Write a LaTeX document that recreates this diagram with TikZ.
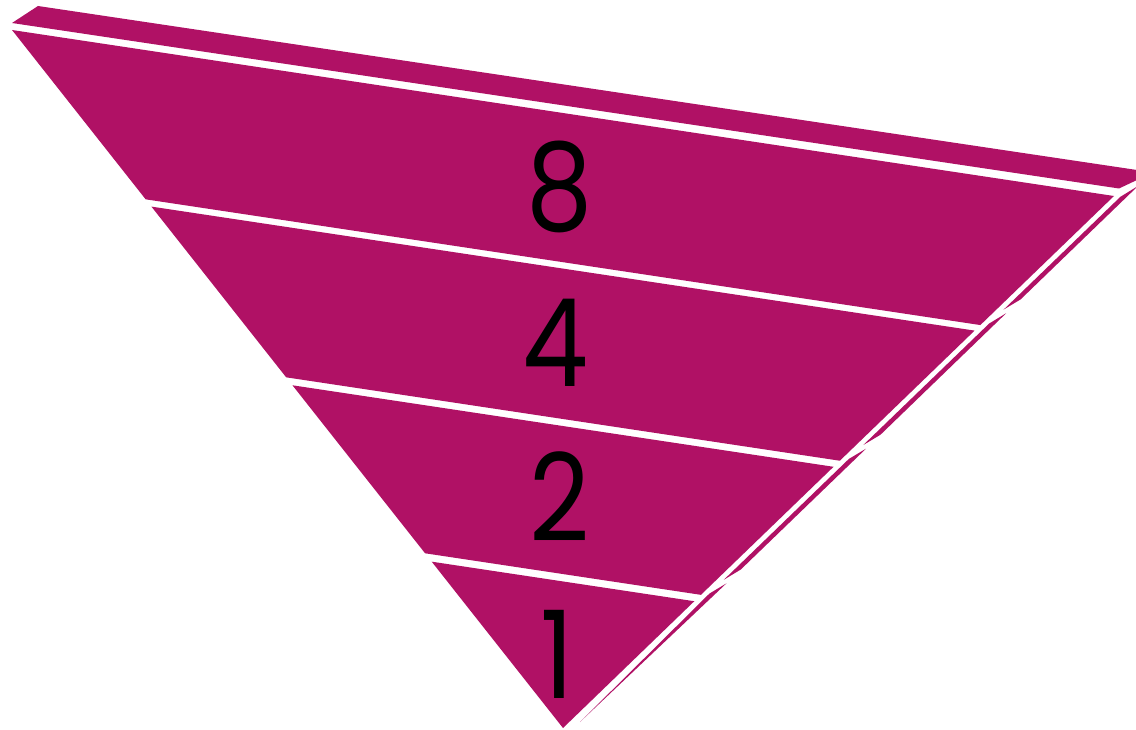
\documentclass[tikz,border=0pt]{standalone}
\usepackage{fontspec}
\setmainfont{Poppins}
\usetikzlibrary{calc}
\definecolor{mag}{HTML}{B01165}
\newcommand{\dig}[1]{\scalebox{0.86}[1]{#1}}
\begin{document}
\begin{tikzpicture}[x=1pt,y=-1pt,
  face/.style={fill=mag,draw=none},
  num/.style={font=\fontsize{122}{122}\selectfont,text=black,inner sep=0pt,anchor=center}]
\useasboundingbox (0,0) rectangle (1136,730);
\coordinate (A) at (12,30);
\coordinate (B) at (1114,196);
\coordinate (T) at (563,728);
% top face
\fill[face] (12,23) -- (38,6) -- (1137,170) -- (1137,180) -- (1119,188.5) -- cycle;
% front bands
\fill[face] ($(A)!0!(T)$) -- ($(B)!0!(T)$) -- ($(B)!0.2426!(T)$) -- ($(A)!0.2426!(T)$) -- cycle;
\fill[face] ($(A)!0.253!(T)$) -- ($(B)!0.253!(T)$) -- ($(B)!0.4976!(T)$) -- ($(A)!0.4976!(T)$) -- cycle;
\fill[face] ($(A)!0.509!(T)$) -- ($(B)!0.509!(T)$) -- ($(B)!0.7497!(T)$) -- ($(A)!0.7497!(T)$) -- cycle;
\fill[face] ($(A)!0.7617!(T)$) -- ($(B)!0.7617!(T)$) -- (T) -- cycle;
% side slivers
\fill[face] (1120.4,196.8) -- (1138,186) -- (1020.6,299.4) -- (1003.6,309.6) -- cycle;
\fill[face] (989.2,323.5) -- (1006.2,313.2) -- (880.4,434.8) -- (863.3,445) -- cycle;
\fill[face] (848.9,458.9) -- (866,448.7) -- (740.8,569.5) -- (723.8,579.8) -- cycle;
\fill[face] (709.4,593.6) -- (726.4,583.4) -- (580,722) -- cycle;
% labels
\node[num] (n8) at (560,187) {\dig{8}};
\node[num] (n4) at (555,343) {\dig{4}};
\node[num] (n2) at (560,497) {\dig{2}};
\node[num] (n1) at (557,654) {\dig{1}};
\end{tikzpicture}
\end{document}
